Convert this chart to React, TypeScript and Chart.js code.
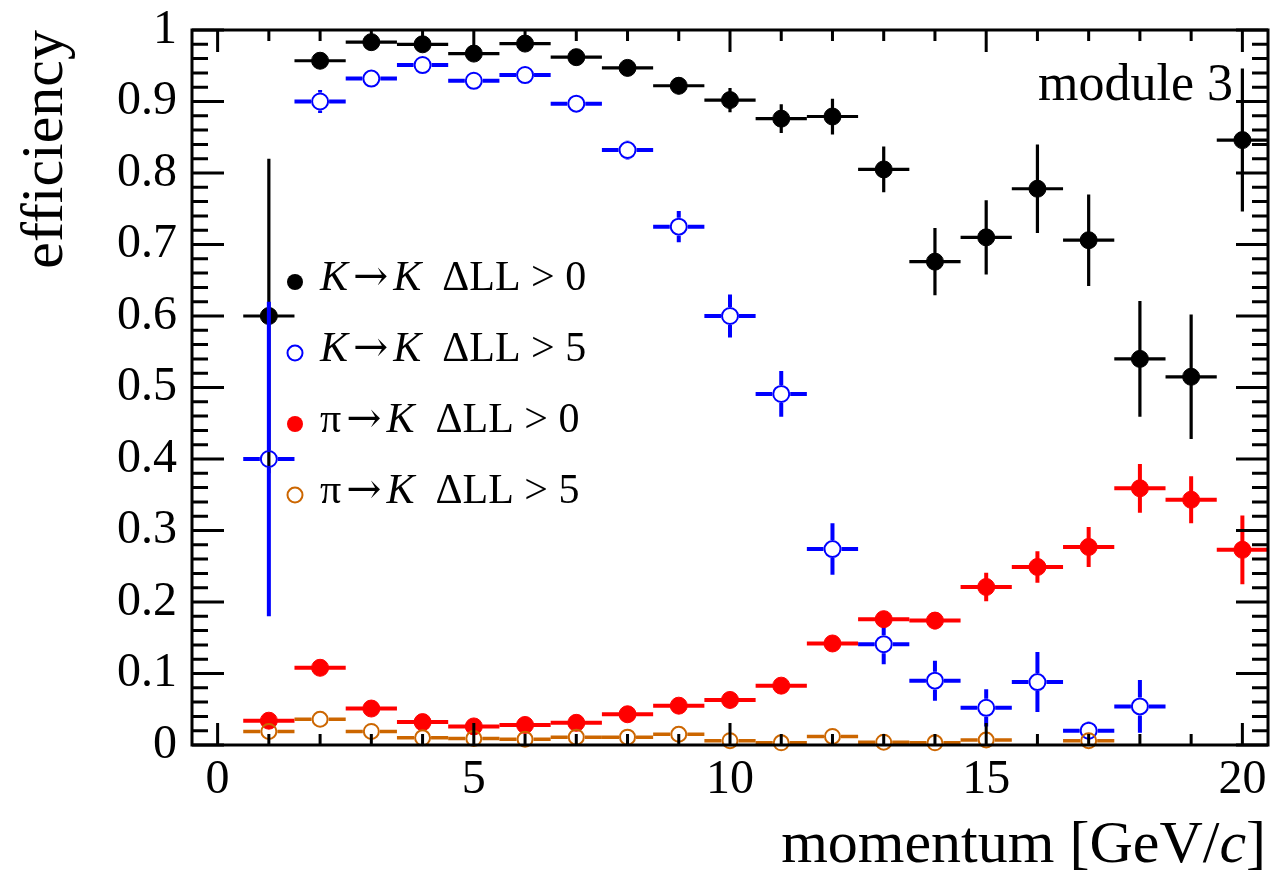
import React, { useEffect, useRef } from 'react';
import { Chart, registerables } from 'chart.js';

Chart.register(...registerables);

// ---------------- data ----------------
const momentum = [1, 2, 3, 4, 5, 6, 7, 8, 9, 10, 11, 12, 13, 14, 15, 16, 17, 18, 19, 20];
const binHalfWidth = 0.5;

const kToK_dll0 = [0.600, 0.957, 0.983, 0.980, 0.967, 0.981, 0.962, 0.947, 0.922, 0.902, 0.876, 0.879, 0.805, 0.676, 0.710, 0.778, 0.706, 0.540, 0.515, 0.846];
const kToK_dll0_err = [0.220, 0.006, 0.004, 0.004, 0.006, 0.005, 0.006, 0.007, 0.012, 0.017, 0.020, 0.025, 0.032, 0.047, 0.052, 0.062, 0.064, 0.081, 0.087, 0.100];

const kToK_dll5 = [0.400, 0.900, 0.932, 0.951, 0.929, 0.937, 0.897, 0.832, 0.725, 0.600, 0.491, 0.274, 0.141, 0.090, 0.052, 0.088, 0.020, 0.054, null, null];
const kToK_dll5_err = [0.220, 0.016, 0.006, 0.005, 0.006, 0.006, 0.008, 0.013, 0.022, 0.030, 0.032, 0.036, 0.028, 0.028, 0.026, 0.042, 0.013, 0.037, null, null];

const piToK_dll0 = [0.034, 0.108, 0.051, 0.032, 0.026, 0.028, 0.031, 0.043, 0.055, 0.063, 0.083, 0.142, 0.176, 0.174, 0.221, 0.249, 0.277, 0.359, 0.343, 0.273];
const piToK_dll0_err = [0.003, 0.004, 0.003, 0.003, 0.003, 0.003, 0.003, 0.004, 0.004, 0.005, 0.006, 0.008, 0.011, 0.012, 0.020, 0.022, 0.028, 0.034, 0.033, 0.048];

const piToK_dll5 = [0.019, 0.036, 0.019, 0.010, 0.009, 0.008, 0.011, 0.011, 0.015, 0.006, 0.003, 0.012, 0.004, 0.003, 0.007, null, 0.006, null, null, null];
const piToK_dll5_err = [0.002, 0.003, 0.002, 0.002, 0.002, 0.002, 0.002, 0.002, 0.002, 0.002, 0.002, 0.002, 0.002, 0.002, 0.002, null, 0.002, null, null, null];

const xTickValues = [0, 5, 10, 15, 20];
const yTickValues = [0, 0.1, 0.2, 0.3, 0.4, 0.5, 0.6, 0.7, 0.8, 0.9, 1];

const xTitle = [{ t: 'momentum [GeV/' }, { t: 'c', it: true }, { t: ']' }];
const yTitle = 'efficiency';
const moduleLabel = 'module 3';

const legendLabels = [
  [{ t: 'K', it: true }, { t: '→', sym: true }, { t: 'K', it: true }, { t: '  ΔLL > 0' }],
  [{ t: 'K', it: true }, { t: '→', sym: true }, { t: 'K', it: true }, { t: '  ΔLL > 5' }],
  [{ t: 'π' }, { t: '→', sym: true }, { t: 'K', it: true }, { t: '  ΔLL > 0' }],
  [{ t: 'π' }, { t: '→', sym: true }, { t: 'K', it: true }, { t: '  ΔLL > 5' }],
];

// ---------------- styles ----------------
const FONT = '"Liberation Serif", "DejaVu Serif", "Times New Roman", serif';
const SYM_FONT = '"DejaVu Serif", "Liberation Serif", serif';

const series = [
  { values: kToK_dll0, errors: kToK_dll0_err, color: '#000000', filled: true, radius: 8.5, border: 1, errWidth: 3.2, order: 4 },
  { values: kToK_dll5, errors: kToK_dll5_err, color: '#0000ff', filled: false, radius: 8, border: 2, errWidth: 4, order: 3 },
  { values: piToK_dll0, errors: piToK_dll0_err, color: '#ff0000', filled: true, radius: 8.5, border: 1, errWidth: 4, order: 2 },
  { values: piToK_dll5, errors: piToK_dll5_err, color: '#cc6600', filled: false, radius: 7.5, border: 2, errWidth: 3.5, order: 1 },
];

type Seg = { t: string; it?: boolean; sym?: boolean };

function drawRich(ctx: CanvasRenderingContext2D, segs: Seg[], x: number, y: number, size: number, align: 'left' | 'right') {
  const fontFor = (s: Seg) => `${s.it ? 'italic ' : ''}${size}px ${s.sym ? SYM_FONT : FONT}`;
  const symPad = size * 0.12;
  ctx.textAlign = 'left';
  ctx.textBaseline = 'alphabetic';
  let total = 0;
  const ws = segs.map((s) => {
    ctx.font = fontFor(s);
    const w = ctx.measureText(s.t).width + (s.sym ? 2 * symPad : 0);
    total += w;
    return w;
  });
  let cx = align === 'right' ? x - total : x;
  segs.forEach((s, i) => {
    ctx.font = fontFor(s);
    ctx.fillText(s.t, cx + (s.sym ? symPad : 0), y);
    cx += ws[i];
  });
}

const errorBarPlugin = {
  id: 'errorBars',
  beforeDatasetDraw(chart: any, args: any) {
    const st = series[args.index];
    const ds = chart.data.datasets[args.index];
    const { ctx, chartArea } = chart;
    const xs = chart.scales.x;
    const ys = chart.scales.y;
    ctx.save();
    ctx.beginPath();
    ctx.rect(chartArea.left, chartArea.top, chartArea.right - chartArea.left, chartArea.bottom - chartArea.top);
    ctx.clip();
    ctx.strokeStyle = st.color;
    ctx.lineWidth = st.errWidth;
    ctx.lineCap = 'butt';
    const gap = st.filled ? 0 : st.radius + st.border / 2;
    ds.data.forEach((p: any) => {
      if (!p || p.y == null) return;
      const px = xs.getPixelForValue(p.x);
      const py = ys.getPixelForValue(p.y);
      const xl = xs.getPixelForValue(p.x - p.xerr);
      const xr = xs.getPixelForValue(p.x + p.xerr);
      const yt = ys.getPixelForValue(p.y + p.yerr);
      const yb = ys.getPixelForValue(p.y - p.yerr);
      ctx.beginPath();
      if (xl < px - gap) { ctx.moveTo(xl, py); ctx.lineTo(px - gap, py); }
      if (xr > px + gap) { ctx.moveTo(px + gap, py); ctx.lineTo(xr, py); }
      if (yt < py - gap) { ctx.moveTo(px, yt); ctx.lineTo(px, py - gap); }
      if (yb > py + gap) { ctx.moveTo(px, py + gap); ctx.lineTo(px, yb); }
      ctx.stroke();
    });
    ctx.restore();
  },
};

const framePlugin = {
  id: 'frame',
  afterDatasetsDraw(chart: any) {
    const { ctx, chartArea } = chart;
    const { left, right, top, bottom } = chartArea;
    const xs = chart.scales.x;
    const ys = chart.scales.y;
    ctx.save();
    ctx.strokeStyle = '#000';
    ctx.lineWidth = 3;
    ctx.lineCap = 'butt';
    ctx.beginPath();
    for (let v = 0; v <= 20; v += 1) {
      const px = xs.getPixelForValue(v);
      const len = v % 5 === 0 ? 22 : 11;
      ctx.moveTo(px, bottom); ctx.lineTo(px, bottom - len);
      ctx.moveTo(px, top); ctx.lineTo(px, top + len);
    }
    for (let k = 0; k <= 50; k++) {
      const py = ys.getPixelForValue(k * 0.02);
      const len = k % 5 === 0 ? 32 : 16;
      ctx.moveTo(left, py); ctx.lineTo(left + len, py);
      ctx.moveTo(right, py); ctx.lineTo(right - len, py);
    }
    ctx.stroke();
    ctx.strokeRect(left, top, right - left, bottom - top);
    ctx.restore();
  },
  afterDraw(chart: any) {
    const { ctx, chartArea } = chart;
    ctx.save();
    ctx.fillStyle = '#000';
    // y title
    ctx.save();
    ctx.translate(62, chartArea.top);
    ctx.rotate(-Math.PI / 2);
    ctx.font = `60px ${FONT}`;
    ctx.textAlign = 'right';
    ctx.textBaseline = 'alphabetic';
    ctx.fillText(yTitle, 0, 0);
    ctx.restore();
    // x title
    drawRich(ctx, xTitle, 1266, 862, 60, 'right');
    // module label
    ctx.font = `52px ${FONT}`;
    ctx.textAlign = 'right';
    ctx.textBaseline = 'alphabetic';
    ctx.fillText(moduleLabel, 1233, 100);
    // legend
    const rowY = [282, 353, 424, 495];
    legendLabels.forEach((segs, i) => {
      const st = series[i];
      const cy = rowY[i];
      ctx.beginPath();
      ctx.arc(295, cy, st.filled ? 8 : 7.5, 0, Math.PI * 2);
      if (st.filled) { ctx.fillStyle = st.color; ctx.fill(); }
      else { ctx.strokeStyle = st.color; ctx.lineWidth = 2; ctx.stroke(); }
      ctx.fillStyle = '#000';
      drawRich(ctx, segs as Seg[], 320, cy + 8, 42, 'left');
    });
    ctx.restore();
  },
};

export default function App() {
  const ref = useRef<HTMLCanvasElement | null>(null);
  useEffect(() => {
    document.body.style.margin = '0';
    const canvas = ref.current;
    if (!canvas) return;
    const datasets = series.map((st, i) => ({
      label: `series ${i}`,
      data: momentum
        .map((m, j) => (st.values[j] == null ? null : { x: m, y: st.values[j], xerr: binHalfWidth, yerr: st.errors[j] }))
        .filter((p) => p !== null),
      showLine: false,
      pointStyle: 'circle',
      pointRadius: st.radius,
      pointHoverRadius: st.radius,
      pointBorderWidth: st.border,
      pointBorderColor: st.color,
      pointBackgroundColor: st.filled ? st.color : 'rgba(0,0,0,0)',
      borderColor: st.color,
      backgroundColor: st.filled ? st.color : 'rgba(0,0,0,0)',
      order: st.order,
      clip: false as any,
    }));
    const chart = new Chart(canvas, {
      type: 'scatter',
      data: { datasets: datasets as any },
      options: {
        responsive: false,
        animation: false,
        events: [],
        layout: { padding: { top: 30, right: 6, left: 0, bottom: 0 } },
        plugins: { legend: { display: false }, tooltip: { enabled: false } },
        scales: {
          x: {
            type: 'linear',
            min: -0.5,
            max: 20.5,
            grid: { display: false, drawTicks: false },
            border: { display: false },
            afterBuildTicks: (s: any) => { s.ticks = xTickValues.map((v) => ({ value: v })); },
            afterFit: (s: any) => { s.height = 128; s.paddingLeft = 0; s.paddingRight = 0; s.paddingTop = 0; s.paddingBottom = 0; },
            ticks: {
              color: '#000',
              font: { family: FONT, size: 48 },
              padding: 7,
              maxRotation: 0,
              autoSkip: false,
              callback: (v: any) => String(v),
            },
          },
          y: {
            type: 'linear',
            min: 0,
            max: 1,
            grid: { display: false, drawTicks: false },
            border: { display: false },
            afterBuildTicks: (s: any) => { s.ticks = yTickValues.map((v) => ({ value: v })); },
            afterFit: (s: any) => { s.width = 192; s.paddingLeft = 0; s.paddingRight = 0; s.paddingTop = 0; s.paddingBottom = 0; },
            ticks: {
              color: '#000',
              font: { family: FONT, size: 48 },
              padding: 15,
              autoSkip: false,
              callback: (v: any) => String(Number(Number(v).toFixed(1))),
            },
          },
        },
      },
      plugins: [errorBarPlugin, framePlugin],
    });
    return () => chart.destroy();
  }, []);
  return <canvas ref={ref} width={1278} height={873} style={{ display: 'block' }} />;
}
